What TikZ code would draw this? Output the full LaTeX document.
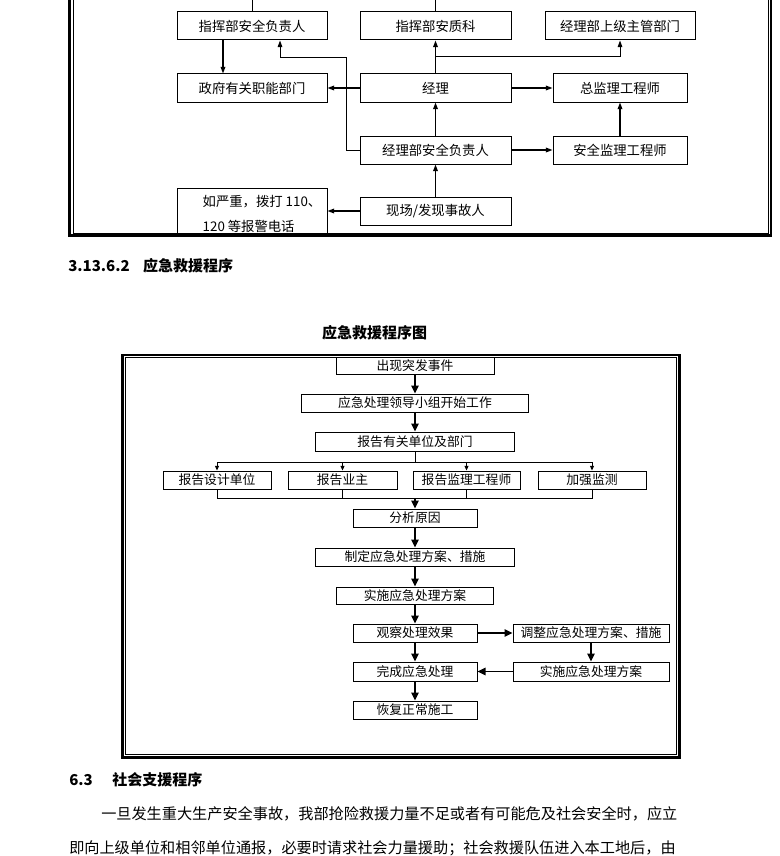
\documentclass[tikz,border=0pt]{standalone}
\usepackage{fontspec}
\newfontfamily\cjk{Noto Sans CJK SC}
\usetikzlibrary{arrows.meta}
\tikzset{
  box/.style={draw, line width=0.75pt, inner sep=0pt, font=\cjk\fontsize{10pt}{11pt}\selectfont},
  sbox/.style={draw, line width=0.75pt, inner sep=0pt, font=\cjk\fontsize{9.6pt}{11pt}\selectfont},
  wh/.style 2 args={minimum width=#1*0.75pt, minimum height=#2*0.75pt},
  arr/.style={line width=1pt, -{Triangle[length=5pt,width=3.5pt]}},
  thinarr/.style={line width=0.75pt, -{Triangle[length=5pt,width=3.5pt]}},
  bigarr/.style={line width=1.2pt, -{Triangle[length=6pt,width=5.5pt]}},
  smallarr/.style={line width=0.75pt, -{Triangle[length=3.5pt,width=3pt]}},
  joinline/.style={line width=0.75pt},
  head/.style={font=\cjk\bfseries\fontsize{11.25pt}{13pt}\selectfont, inner sep=0pt},
  para/.style={font=\cjk\fontsize{11.37pt}{14pt}\selectfont, anchor=west, inner sep=0pt},
}
\begin{document}
\begin{tikzpicture}[x=0.75pt, y=-0.75pt]
  \clip (0,0) rectangle (779,856);
  % frame of the upper chart
  \draw[line width=1.9pt] (69.5,-10) rectangle (771,235.5);
  \draw[line width=0.75pt] (73,-10) rectangle (768.5,233);
  % upper chart
  \node[box, wh={150}{28}] (zhbAq) at (252,26) {指挥部安全负责人};
  \node[box, wh={151}{28}] (zhbAzk) at (435.5,26) {指挥部安质科};
  \node[box, wh={150}{28}] (sjzg) at (620,26) {经理部上级主管部门};
  \node[box, wh={150}{28}] (zf) at (252,88) {政府有关职能部门};
  \node[box, wh={151}{28}] (jl) at (435.5,88) {经理};
  \node[box, wh={134}{28}] (zjl) at (620,88) {总监理工程师};
  \node[box, wh={151}{28}] (jlbAq) at (435.5,150) {经理部安全负责人};
  \node[box, wh={134}{28}] (aqjl) at (620,150) {安全监理工程师};
  \node[box, wh={150}{47}, align=left, font=\cjk\fontsize{10pt}{18.75pt}\selectfont] (bj) at (252,211.5)
    {\rule{0pt}{12pt}\hspace*{15pt}如严重，拨打 110、\\\hspace*{15pt}120 等报警电话};
  \node[box, wh={151}{28}] (xc) at (435.5,211) {现场/发现事故人};
  % lines from above
  \coordinate (in1) at (252,-5);
  \coordinate (in2) at (435.5,-5);
  \draw[line width=0.75pt] (in1) -- (zhbAq.north);
  \draw[line width=0.75pt] (in2) -- (zhbAzk.north);
  % connectors
  \draw[arr] ([xshift=-21.75pt]zhbAq.south) -- ([xshift=-21.75pt]zf.north);
  \coordinate (k1) at (346,58);
  \draw[thinarr] (jlbAq.west) -| (k1) -| ([xshift=21pt]zhbAq.south);
  \draw[arr] (jl.west) -- (zf.east);
  \draw[arr] (jl.north) -- (zhbAzk.south);
  \coordinate (jn) at (435.5,57);
  \draw[thinarr] (jn) -| (sjzg.south);
  \draw[arr] (jl.east) -- (zjl.west);
  \draw[arr] (jlbAq.north) -- (jl.south);
  \draw[arr] (jlbAq.east) -- (aqjl.west);
  \draw[arr] (aqjl.north) -- (zjl.south);
  \draw[arr] (xc.north) -- (jlbAq.south);
  \draw[arr] (xc.west) -- (xc.west -| bj.east);
  % headings
  \node[head, anchor=west] (sec1) at (68,265.5) {3.13.6.2\hspace{0.9em}应急救援程序};
  \node[head] (ttl) at (374.5,333) {应急救援程序图};
  % frame of the lower chart
  \draw[line width=1.9pt] (122.5,355) rectangle (679.5,757.5);
  \draw[line width=0.75pt] (125.5,357.5) rectangle (676.5,754.5);
  % lower chart
  \node[sbox, wh={158}{17}] (s1) at (415,365.5) {出现突发事件};
  \node[sbox, wh={227}{18}] (s2) at (415,403) {应急处理领导小组开始工作};
  \node[sbox, wh={199}{19}] (s3) at (415,441.5) {报告有关单位及部门};
  \node[sbox, wh={108}{18}] (r1) at (217,480) {报告设计单位};
  \node[sbox, wh={109}{18}] (r2) at (342.5,480) {报告业主};
  \node[sbox, wh={107}{18}] (r3) at (466.5,480) {报告监理工程师};
  \node[sbox, wh={108}{18}] (r4) at (592,480) {加强监测};
  \node[sbox, wh={124}{18}] (s4) at (415,518) {分析原因};
  \node[sbox, wh={199}{18}] (s5) at (415,557) {制定应急处理方案、措施};
  \node[sbox, wh={157}{17}] (s6) at (415,595.5) {实施应急处理方案};
  \node[sbox, wh={124}{18}] (s7) at (415,633) {观察处理效果};
  \node[sbox, wh={124}{19}] (s8) at (415,671.5) {完成应急处理};
  \node[sbox, wh={124}{18}] (s9) at (415,710) {恢复正常施工};
  \node[sbox, wh={156}{18}] (t1) at (591,633) {调整应急处理方案、措施};
  \node[sbox, wh={156}{19}] (t2) at (591,671.5) {实施应急处理方案};
  % branch to the four reports
  \coordinate (b0) at (415,462);
  \draw[joinline] (s3.south) -- (b0);
  \draw[joinline] (r1.north |- b0) -- (r4.north |- b0);
  \foreach \r in {r1,r2,r3,r4}
    \draw[smallarr] (\r.north |- b0) -- (\r.north);
  % join below the reports
  \coordinate (j0) at (415,498);
  \draw[joinline] (r1.south) -- (r1.south |- j0) -- (r4.south |- j0) -- (r4.south);
  \foreach \r in {r2,r3}
    \draw[joinline] (\r.south) -- (\r.south |- j0);
  \draw[bigarr] (j0) -- (s4.north);
  % main column
  \foreach \a/\b in {s1/s2,s2/s3,s4/s5,s5/s6,s6/s7,s7/s8,s8/s9}
    \draw[bigarr] (\a.south) -- (\b.north);
  \draw[bigarr] (s7.east) -- (t1.west);
  \draw[bigarr] (t1.south) -- (t2.north);
  \draw[bigarr] (t2.west) -- (s8.east);
  % text below
  \node[head, anchor=west] (sec2) at (69,780) {6.3\hspace{1.3em}社会支援程序};
  \node[para] (p1) at (101,814) {一旦发生重大生产安全事故，我部抢险救援力量不足或者有可能危及社会安全时，应立};
  \node[para] (p2) at (69,848) {即向上级单位和相邻单位通报，必要时请求社会力量援助；社会救援队伍进入本工地后，由};
\end{tikzpicture}
\end{document}
